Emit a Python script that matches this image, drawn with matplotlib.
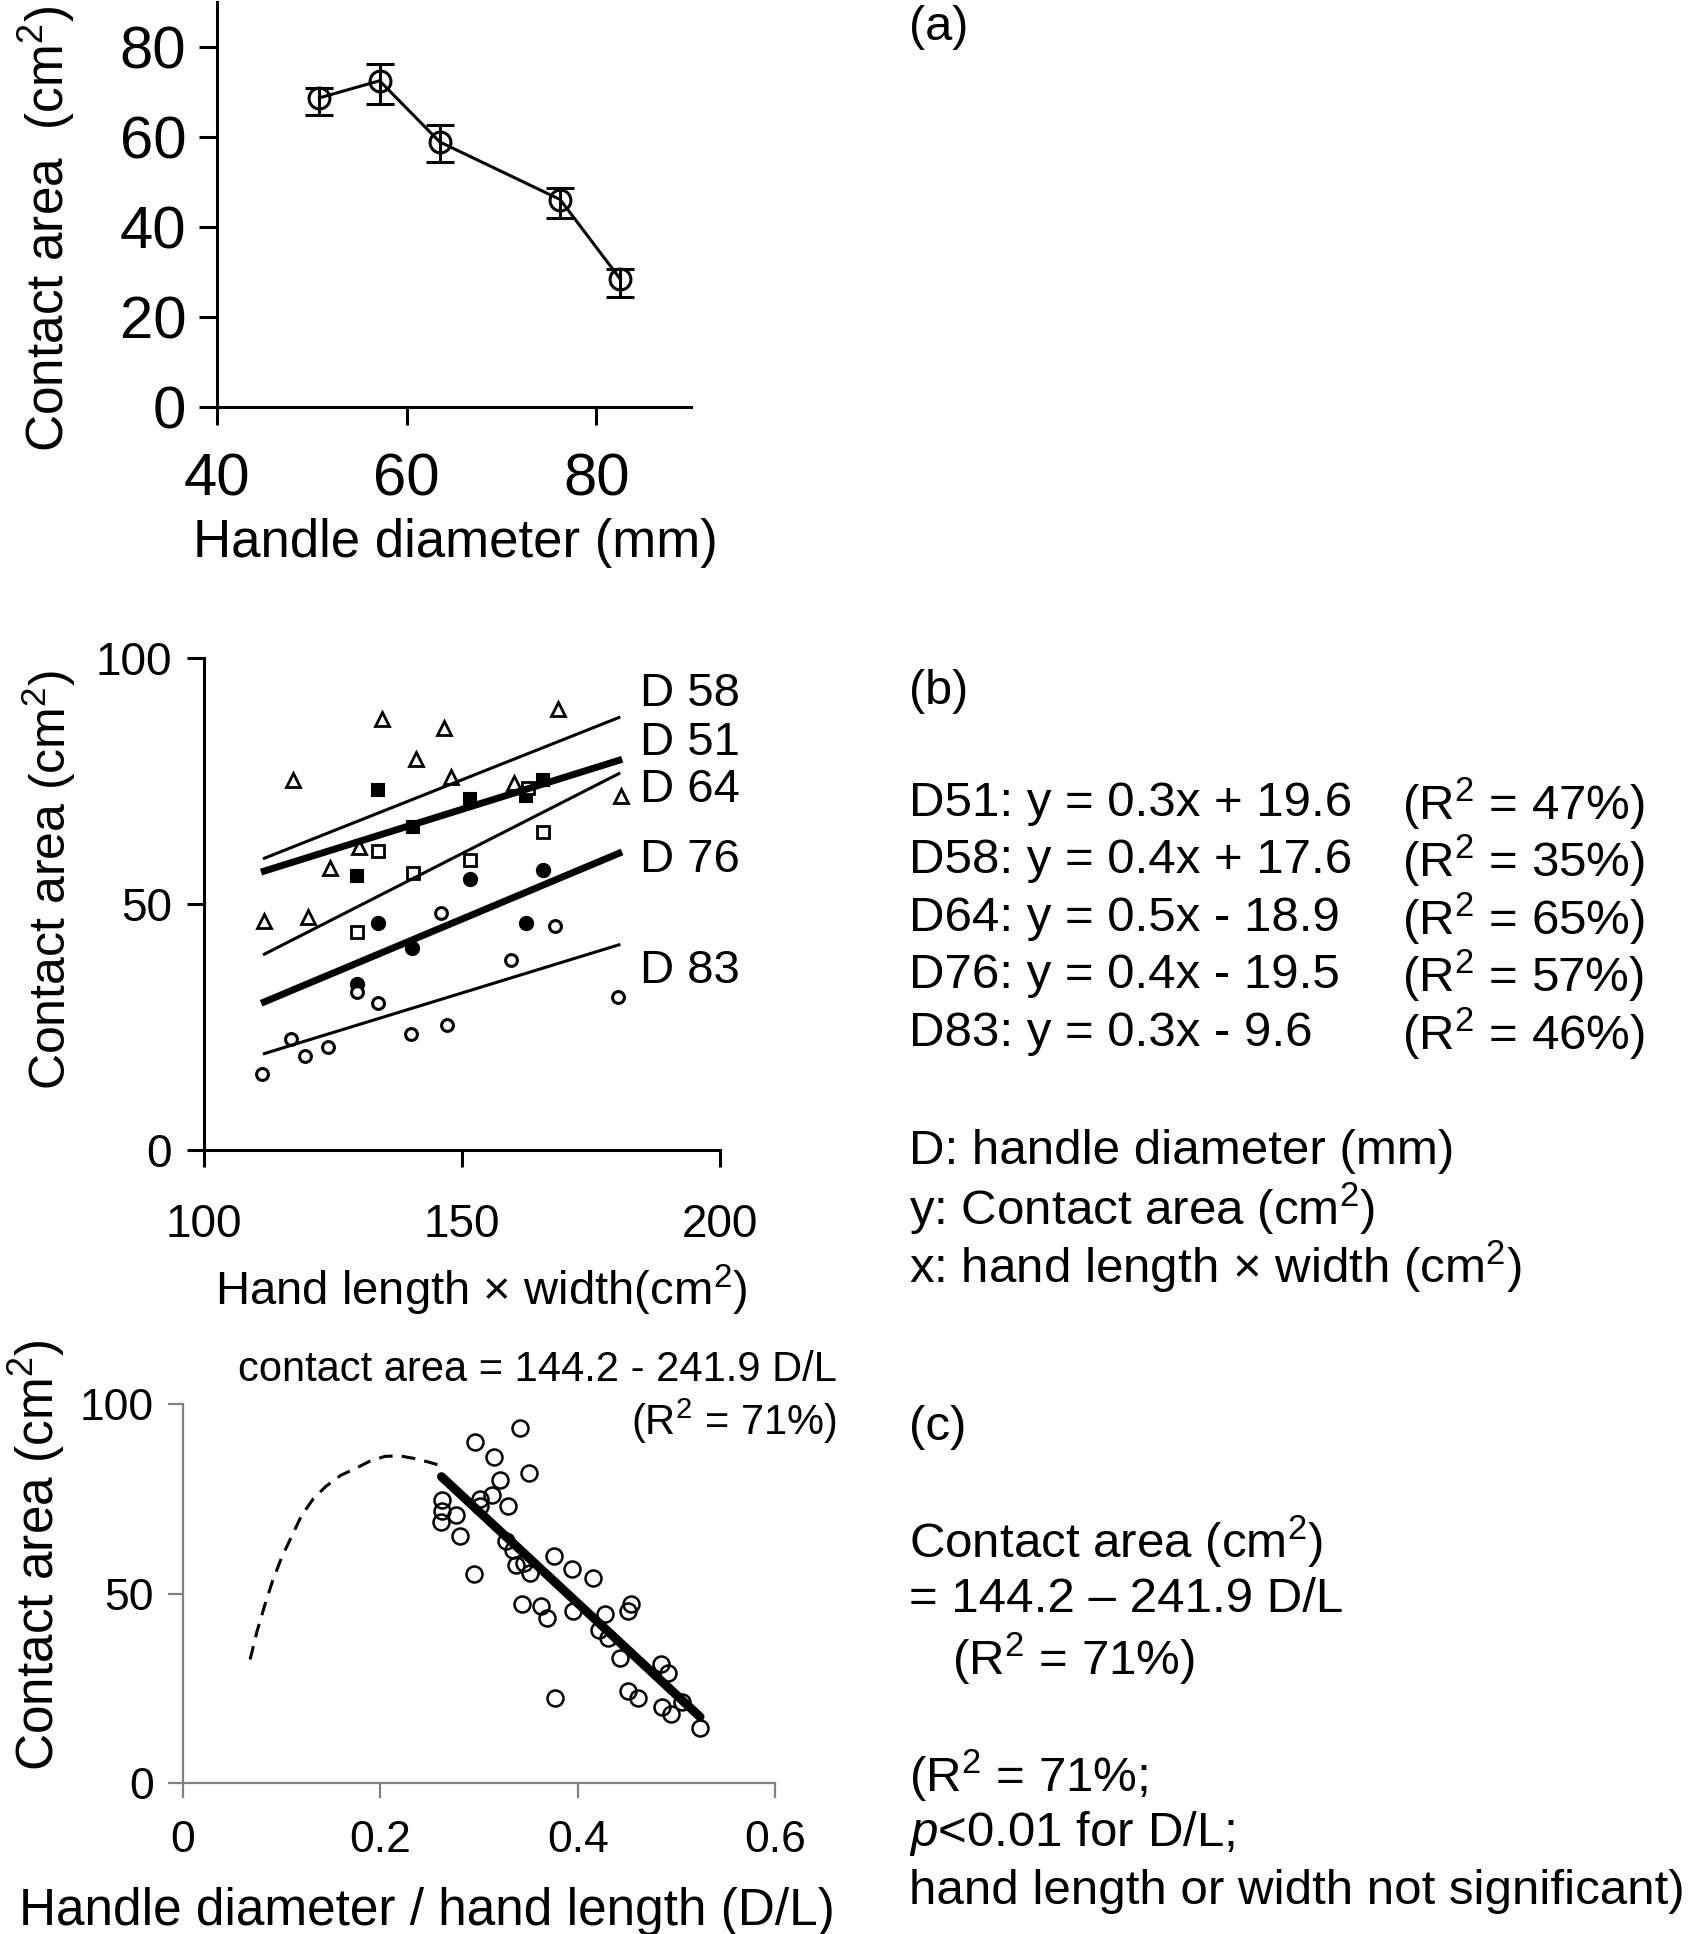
import matplotlib
matplotlib.use('Agg')
import matplotlib.pyplot as plt
import numpy as np

plt.rcParams['font.family'] = ['Liberation Sans', 'DejaVu Sans']
plt.rcParams['mathtext.fontset'] = 'custom'
plt.rcParams['mathtext.rm'] = 'Liberation Sans'
plt.rcParams['mathtext.it'] = 'Liberation Sans:italic'
plt.rcParams['mathtext.default'] = 'regular'

# ---------------- data ----------------
# (a) contact area vs handle diameter
diam = [50.8, 57.15, 63.5, 76.2, 82.55]
area_mean = [68.7, 72.5, 58.9, 46.1, 28.4]
area_low = [64.9, 67.4, 54.5, 41.9, 24.5]
area_high = [71.0, 76.2, 62.7, 48.6, 30.7]

# (b) contact area vs hand length x width, by handle diameter
d58_x = [117.3, 134.4, 141.1, 146.6, 147.8, 160.1, 168.7, 180.8, 130.1, 124.5, 111.7, 120.2]
d58_y = [75.2, 87.7, 79.5, 85.8, 75.8, 74.6, 89.6, 72.0, 61.6, 57.4, 46.6, 47.4]
d51_x = [133.8, 140.5, 129.6, 151.5, 162.4, 165.7]
d51_y = [73.2, 65.6, 55.6, 71.3, 72.0, 75.3]
d64_x = [133.8, 140.5, 151.5, 165.7, 129.6, 162.8]
d64_y = [60.7, 56.2, 58.9, 64.6, 44.3, 73.5]
d76_x = [133.7, 140.4, 151.5, 162.4, 165.7, 129.6]
d76_y = [46.2, 41.1, 55.0, 46.2, 57.0, 33.7]
d83_x = [146.0, 168.1, 159.4, 180.2, 129.6, 133.7, 140.1, 147.1, 116.8, 119.6, 124.0, 111.2]
d83_y = [48.1, 45.6, 38.7, 31.0, 32.2, 29.9, 23.5, 25.5, 22.5, 19.1, 20.9, 15.4]

fit_b_x = [111.7, 180.4]
fit_d58 = [59.3, 87.9]
fit_d51 = [56.7, 79.2]
fit_d64 = [39.8, 76.5]
fit_d76 = [30.1, 60.3]
fit_d83 = [19.6, 41.7]
line_labels = ['D 58', 'D 51', 'D 64', 'D 76', 'D 83']
line_label_y = [92.7, 82.7, 73.2, 58.9, 36.3]

eq_names = ['D51:', 'D58:', 'D64:', 'D76:', 'D83:']
eq_text = ['y = 0.3x + 19.6', 'y = 0.4x + 17.6', 'y = 0.5x - 18.9', 'y = 0.4x - 19.5', 'y = 0.3x - 9.6']
eq_r2 = ['47%', '35%', '65%', '57%', '46%']

# (c) contact area vs D/L
dl_x = [0.342, 0.296, 0.315, 0.351, 0.321, 0.313, 0.301, 0.262, 0.301, 0.329, 0.263, 0.277, 0.261, 0.281,
        0.327, 0.334, 0.346, 0.337, 0.352, 0.376, 0.394, 0.416, 0.295, 0.344, 0.363, 0.369, 0.395, 0.428,
        0.454, 0.451, 0.422, 0.431, 0.443, 0.484, 0.492, 0.377, 0.451, 0.461, 0.485, 0.495, 0.506, 0.524]
dl_y = [93.6, 89.9, 86.0, 81.8, 80.0, 75.9, 75.0, 74.8, 73.0, 73.0, 71.8, 70.8, 68.9, 65.3,
        63.9, 61.6, 58.0, 57.4, 55.5, 59.9, 56.4, 54.2, 55.2, 47.3, 46.8, 43.5, 45.5, 44.7,
        47.1, 45.3, 40.3, 38.3, 33.0, 31.4, 29.1, 22.3, 24.2, 22.3, 20.1, 18.3, 21.5, 14.4]
curve_x = [0.068, 0.075, 0.083, 0.091, 0.100, 0.110, 0.120, 0.132, 0.145, 0.160, 0.175, 0.190,
           0.205, 0.220, 0.235, 0.250, 0.263]
curve_y = [32.6, 40.0, 47.0, 53.5, 59.5, 65.0, 70.5, 75.0, 78.3, 81.2, 83.0, 85.0,
           86.2, 86.3, 85.6, 84.6, 83.6]
fit_c_intercept = 144.2
fit_c_slope = -241.9
fit_c_range = [0.262, 0.524]

# ---------------- figure ----------------
W, H = 1696, 1934
fig = plt.figure(figsize=(W / 100, H / 100), dpi=100)


def ax_px(l, t, r, b):
    return fig.add_axes([l / W, 1 - b / H, (r - l) / W, (b - t) / H])


def ftext(x, y, s, **kw):
    fig.text(x / W, 1 - y / H, s, **kw)


def style(ax, color='black', lw=2.0, tlen=13, fs=30, xpad=10, ypad=10):
    for s in ['top', 'right']:
        ax.spines[s].set_visible(False)
    for s in ['left', 'bottom']:
        ax.spines[s].set_color(color)
        ax.spines[s].set_linewidth(lw)
    ax.tick_params(axis='both', direction='out', length=tlen, width=lw, color=color,
                   labelsize=fs, labelcolor='black')
    ax.tick_params(axis='x', pad=xpad)
    ax.tick_params(axis='y', pad=ypad)


# ----- (a) -----
axa = ax_px(217, 2, 691, 407)
yerr = [np.array(area_mean) - np.array(area_low), np.array(area_high) - np.array(area_mean)]
axa.errorbar(diam, area_mean, yerr=yerr, color='black', lw=2.2, elinewidth=2.2, capsize=10,
             capthick=2.2, marker='o', ms=15, mfc='none', mec='black', mew=2.2, clip_on=False)
axa.set_xlim(40, 90)
axa.set_ylim(0, 90)
axa.set_xticks([40, 60, 80])
axa.set_yticks([0, 20, 40, 60, 80])
style(axa, lw=2.2, tlen=13, fs=43, xpad=20, ypad=9)
axa.set_xlabel('Handle diameter (mm)', fontsize=38, va='center')
axa.xaxis.set_label_coords(0.502, -0.336)
axa.set_ylabel('Contact area  (cm$^{2}$)', fontsize=37, va='center')
axa.yaxis.set_label_coords(-0.359, 0.44)
ftext(909, 27, '(a)', fontsize=35, va='center', ha='left')

# ----- (b) -----
axb = ax_px(204, 658, 720, 1150)
axb.plot(d58_x, d58_y, ls='none', marker='^', ms=10, mfc='white', mec='black', mew=2)
axb.plot(d51_x, d51_y, ls='none', marker='s', ms=8.5, mfc='black', mec='black', mew=1.5)
axb.plot(d64_x, d64_y, ls='none', marker='s', ms=8.5, mfc='white', mec='black', mew=2)
axb.plot(d76_x, d76_y, ls='none', marker='o', ms=9.5, mfc='black', mec='black', mew=1.5)
axb.plot(d83_x, d83_y, ls='none', marker='o', ms=8.5, mfc='white', mec='black', mew=2.2)
axb.plot(fit_b_x, fit_d58, color='black', lw=2.2)
axb.plot(fit_b_x, fit_d51, color='black', lw=5)
axb.plot(fit_b_x, fit_d64, color='black', lw=2.2)
axb.plot(fit_b_x, fit_d76, color='black', lw=5)
axb.plot(fit_b_x, fit_d83, color='black', lw=2.2)
for lab, ly in zip(line_labels, line_label_y):
    axb.text(184.5, ly, lab, fontsize=34, va='center', ha='left', clip_on=False)
axb.set_xlim(100, 200)
axb.set_ylim(0, 100)
axb.set_xticks([100, 150, 200])
axb.set_yticks([0, 50, 100])
style(axb, lw=2.2, tlen=12, fs=33, xpad=26, ypad=11)
axb.set_xlabel('Hand length × width(cm$^{2}$)', fontsize=34, va='center')
axb.xaxis.set_label_coords(0.537, -0.285)
axb.set_ylabel('Contact area (cm$^{2}$)', fontsize=36, va='center')
axb.yaxis.set_label_coords(-0.30, 0.55)

ftext(909, 691, '(b)', fontsize=35, va='center', ha='left')
eq_y = [804, 861, 919, 976, 1034]
for n, e, r, yy in zip(eq_names, eq_text, eq_r2, eq_y):
    ftext(909, yy, n + ' ' + e, fontsize=35.5, va='center', ha='left')
    ftext(1402, yy, '(R$^{2}$ = ' + r + ')', fontsize=35.5, va='center', ha='left')
ftext(909, 1151, 'D: handle diameter (mm)', fontsize=35.5, va='center', ha='left')
ftext(909, 1209, 'y: Contact area (cm$^{2}$)', fontsize=35.5, va='center', ha='left')
ftext(909, 1267, 'x: hand length × width (cm$^{2}$)', fontsize=35.5, va='center', ha='left')

# ----- (c) -----
axc = ax_px(183, 1404, 775, 1783)
axc.plot(curve_x, curve_y, color='black', lw=2.2, ls=(0, (4.5, 3)))
fx = np.array(fit_c_range)
axc.plot(fx, fit_c_intercept + fit_c_slope * fx, color='black', lw=6.5, solid_capstyle='round')
axc.plot(dl_x, dl_y, ls='none', marker='o', ms=11.5, mfc='none', mec='black', mew=1.8)
axc.set_xlim(0, 0.6)
axc.set_ylim(0, 100)
axc.set_xticks([0, 0.2, 0.4, 0.6])
axc.set_xticklabels(['0', '0.2', '0.4', '0.6'])
axc.set_yticks([0, 50, 100])
style(axc, color='#808080', lw=1.6, tlen=11, fs=32, xpad=16, ypad=10)
axc.set_xlabel('Handle diameter / hand length (D/L)', fontsize=37, va='center')
axc.xaxis.set_label_coords(0.412, -0.338)
axc.set_ylabel('Contact area (cm$^{2}$)', fontsize=37, va='center')
axc.yaxis.set_label_coords(-0.247, 0.60)
ftext(837, 1370, 'contact area = 144.2 - 241.9 D/L', fontsize=30, va='center', ha='right')
ftext(837, 1421, '(R$^{2}$ = 71%)', fontsize=30, va='center', ha='right')

ftext(909, 1427, '(c)', fontsize=35.5, va='center', ha='left')
ftext(909, 1542, 'Contact area (cm$^{2}$)', fontsize=35.5, va='center', ha='left')
ftext(909, 1600, '= 144.2 – 241.9 D/L', fontsize=35.5, va='center', ha='left')
ftext(952, 1659, '(R$^{2}$ = 71%)', fontsize=35.5, va='center', ha='left')
ftext(909, 1776, '(R$^{2}$ = 71%;', fontsize=35.5, va='center', ha='left')
ftext(909, 1834, '$\\mathit{p}$<0.01 for D/L;', fontsize=35.5, va='center', ha='left')
ftext(909, 1891, 'hand length or width not significant)', fontsize=35.5, va='center', ha='left')

fig.savefig('out.png', dpi=100)
